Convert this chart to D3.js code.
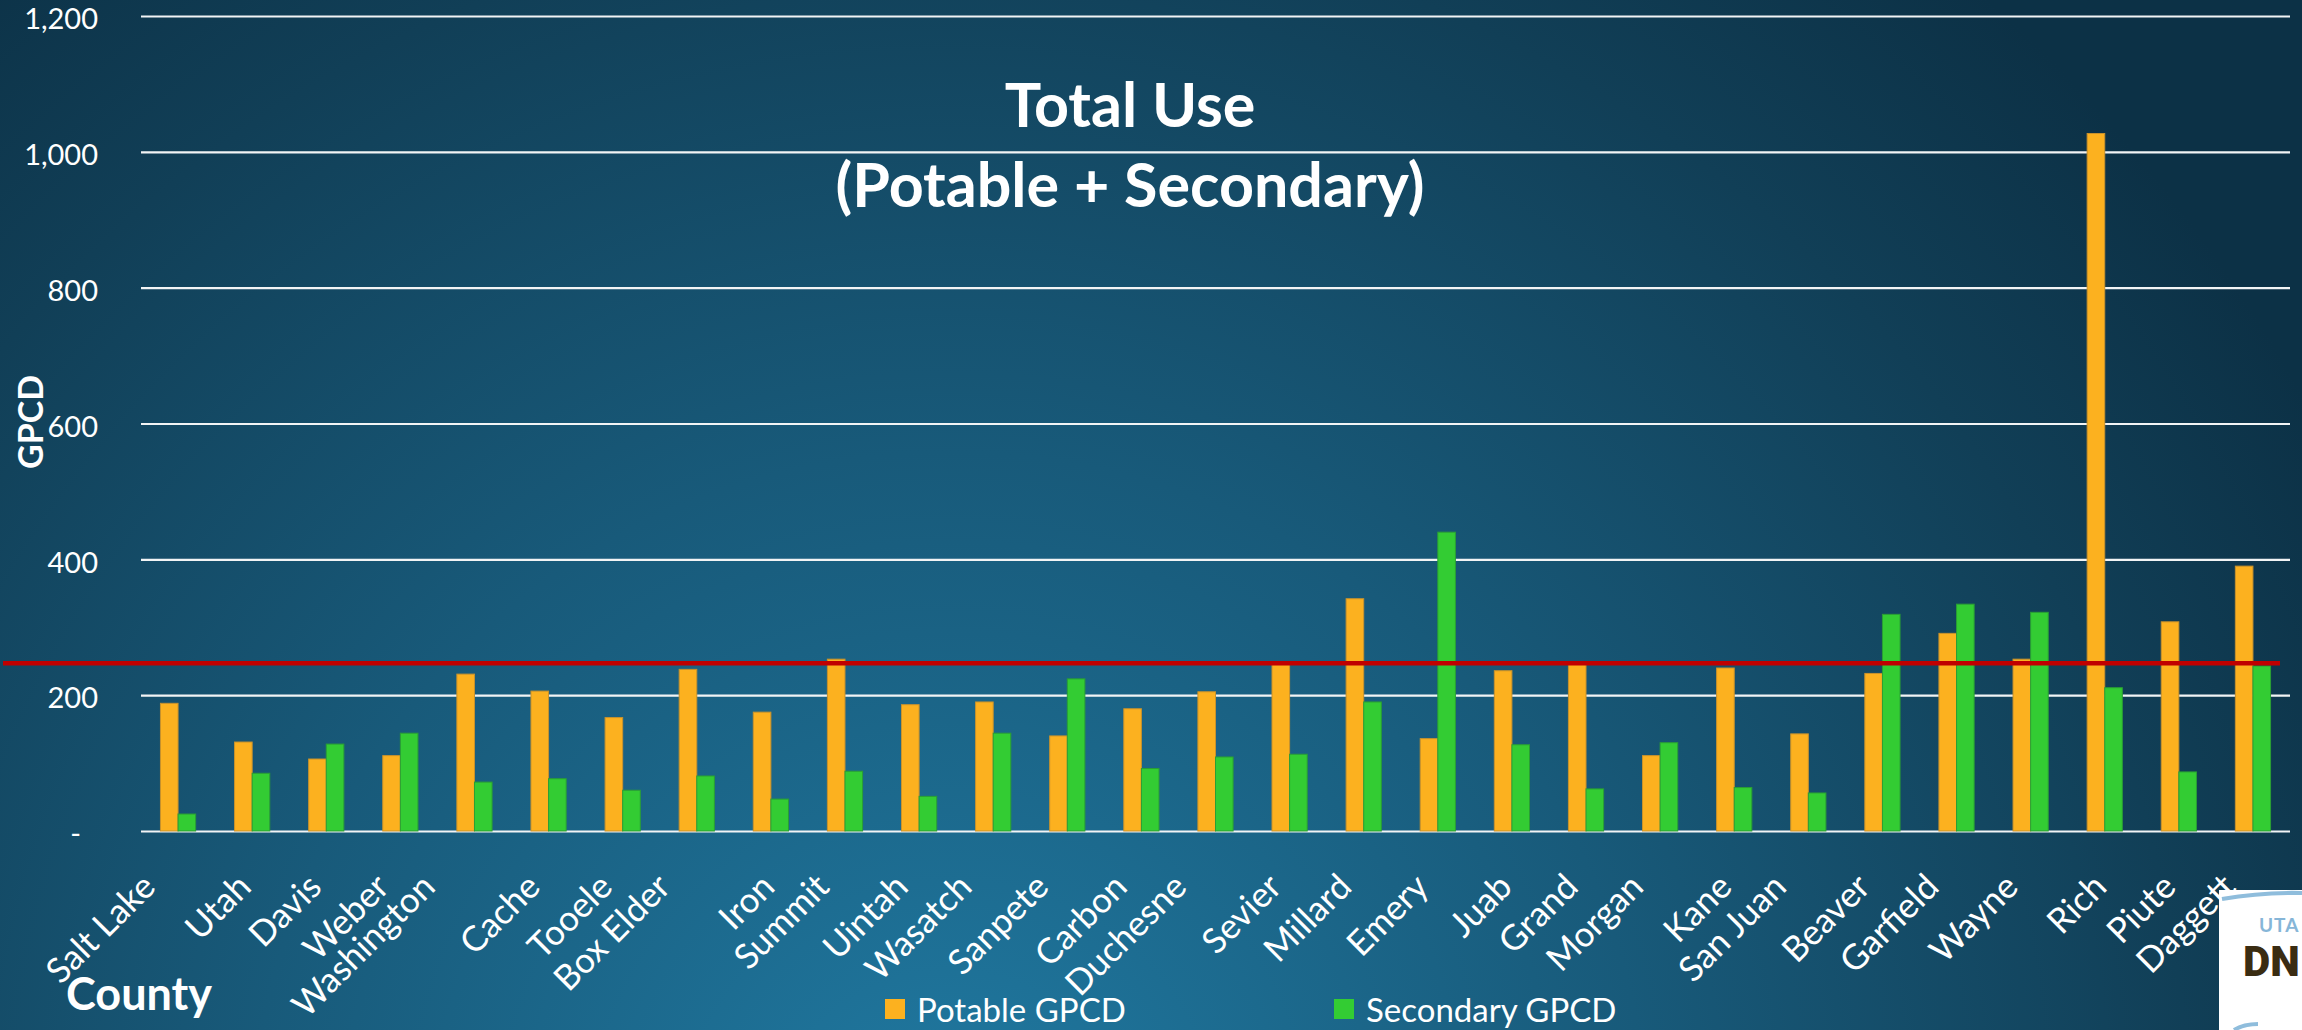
<!DOCTYPE html>
<html>
<head>
<meta charset="utf-8">
<script src="https://cdn.jsdelivr.net/npm/d3@7"></script>
<style>
  html, body { margin: 0; padding: 0; background: #0f3a50; }
  svg { display: block; }
  text { font-family: Lato, "Open Sans", sans-serif; fill: #ffffff; }
</style>
</head>
<body>
<svg id="chart" width="2302" height="1030"></svg>
<script>
// ---------------- DATA ----------------
const counties = ["Salt Lake", "Utah", "Davis", "Weber", "Washington", "Cache", "Tooele", "Box Elder",
  "Iron", "Summit", "Uintah", "Wasatch", "Sanpete", "Carbon", "Duchesne", "Sevier", "Millard",
  "Emery", "Juab", "Grand", "Morgan", "Kane", "San Juan", "Beaver", "Garfield", "Wayne", "Rich",
  "Piute", "Daggett"];
const potableGPCD = [188, 131, 106, 111, 231, 206, 167, 238, 175, 253, 186, 190, 140, 180, 205,
  245, 342, 136, 236, 246, 111, 240, 143, 232, 291, 253, 1027, 308, 390];
const secondaryGPCD = [25, 85, 128, 144, 72, 77, 60, 81, 47, 88, 51, 144, 224, 92, 109,
  113, 190, 440, 127, 62, 130, 64, 56, 319, 334, 322, 211, 87, 243];
const seriesNames = ["Potable GPCD", "Secondary GPCD"];
const seriesColors = ["#FCB11F", "#33CC33"];
const seriesStrokes = ["#C9922C", "#2A9E35"];
const yTickValues = [0, 200, 400, 600, 800, 1000, 1200];
const benchmarkGPCD = 247;
const titleLines = ["Total Use", "(Potable + Secondary)"];

// ---------------- LAYOUT ----------------
const W = 2302, H = 1030;
const plotLeft = 141, plotRight = 2290, plotTop = 16, plotBottom = 831;

const svg = d3.select("#chart");
const defs = svg.append("defs");

const bg = defs.append("radialGradient").attr("id", "bg")
  .attr("gradientUnits", "userSpaceOnUse")
  .attr("cx", 950).attr("cy", 1150).attr("r", 1550);
bg.append("stop").attr("offset", "0").attr("stop-color", "#2079a1");
bg.append("stop").attr("offset", "0.45").attr("stop-color", "#185a7a");
bg.append("stop").attr("offset", "0.8").attr("stop-color", "#113f57");
bg.append("stop").attr("offset", "1").attr("stop-color", "#0c3146");

svg.append("rect").attr("width", W).attr("height", H).attr("fill", "url(#bg)");

const x = d3.scaleBand().domain(counties).range([plotLeft, plotRight]).padding(0);
const xs = d3.scaleBand().domain(seriesNames).range([0, x.bandwidth()])
  .paddingInner(0).paddingOuter(1.105);
const y = d3.scaleLinear().domain([0, 1200]).range([plotBottom, plotTop]);

// gridlines + y tick labels
const yAxis = d3.axisLeft(y)
  .tickValues(yTickValues)
  .tickSize(-(plotRight - plotLeft))
  .tickPadding(43)
  .tickFormat(v => v === 0 ? "-" : d3.format(",")(v));
const gy = svg.append("g").attr("transform", `translate(${plotLeft},0)`).call(yAxis);
gy.select(".domain").remove();
gy.selectAll(".tick line").attr("stroke", "#f2f4f5").attr("stroke-width", 2.2);
gy.selectAll(".tick text")
  .attr("fill", "#ffffff")
  .style("font-family", "Lato, 'Open Sans', sans-serif")
  .style("font-size", "29px")
  .attr("dy", "0.44em");
gy.selectAll(".tick").filter(d => d === 0).select("text").attr("x", -60);

// bars
const data = counties.map((c, i) => ({ county: c, values: [potableGPCD[i], secondaryGPCD[i]] }));
const groups = svg.append("g").selectAll("g").data(data).join("g")
  .attr("transform", d => `translate(${x(d.county)},0)`);
groups.selectAll("rect")
  .data(d => d.values.map((v, k) => ({ series: seriesNames[k], k, v })))
  .join("rect")
  .attr("x", d => xs(d.series))
  .attr("y", d => y(d.v))
  .attr("width", xs.bandwidth())
  .attr("height", d => y(0) - y(d.v))
  .attr("fill", d => seriesColors[d.k])
  .attr("stroke", d => seriesStrokes[d.k])
  .attr("stroke-width", 1);

// benchmark red line
svg.append("line")
  .attr("x1", 3).attr("x2", 2280)
  .attr("y1", y(benchmarkGPCD)).attr("y2", y(benchmarkGPCD))
  .attr("stroke", "#C00000").attr("stroke-width", 4.5);

// x category labels (rotated)
const xl = svg.append("g").selectAll("text").data(counties).join("text")
  .text(d => d)
  .attr("text-anchor", "end")
  .style("font-size", "35px");
xl.each(function (d) {
  const L = this.getComputedTextLength();
  const cx = x(d) + x.bandwidth() / 2;
  const ex = cx + 6 - 0.35 * (L - 60);
  d3.select(this).attr("transform", `translate(${ex},${889}) rotate(-45)`);
});

// axis titles
svg.append("text").text("County")
  .attr("x", 66).attr("y", 1010)
  .style("font-size", "45px").style("font-weight", 700);
svg.append("text").text("GPCD")
  .attr("transform", `translate(43,422) rotate(-90)`)
  .attr("text-anchor", "middle")
  .style("font-size", "34px").style("font-weight", 700);

// chart title
svg.append("g").selectAll("text").data(titleLines).join("text")
  .text(d => d)
  .attr("x", 1130)
  .attr("y", (d, i) => 127 + i * 80)
  .attr("text-anchor", "middle")
  .style("font-size", "61px").style("font-weight", 700);

// legend
const legendX = [885, 1334];
const lg = svg.append("g").selectAll("g").data(seriesNames).join("g")
  .attr("transform", (d, i) => `translate(${legendX[i]},999)`);
lg.append("rect").attr("width", 20).attr("height", 20)
  .attr("fill", (d, i) => seriesColors[i]);
lg.append("text").text(d => d).attr("x", 32).attr("y", 23)
  .style("font-size", "33px");

// partial logo in the corner (as visible in the reference)
const logo = svg.append("g");
logo.append("rect").attr("x", 2219).attr("y", 890).attr("width", 90).attr("height", 150).attr("fill", "#ffffff");
logo.append("path").attr("d", "M2222,899 Q2262,892 2302,893")
  .attr("fill", "none").attr("stroke", "#8fbddc").attr("stroke-width", 4);
logo.append("path").attr("d", "M2234,1030 Q2244,1024 2258,1024")
  .attr("fill", "none").attr("stroke", "#8fbddc").attr("stroke-width", 4);
logo.append("text").text("UTA").attr("x", 2259).attr("y", 932)
  .style("fill", "#86b6d8").style("font-size", "19px").style("font-weight", 700)
  .style("letter-spacing", "1px");
logo.append("text").text("DN").attr("x", 2243).attr("y", 976)
  .style("fill", "#3a2c12").style("font-size", "42px").style("font-weight", 900)
  .style("font-family", "Roboto, Lato, sans-serif");
</script>
</body>
</html>
